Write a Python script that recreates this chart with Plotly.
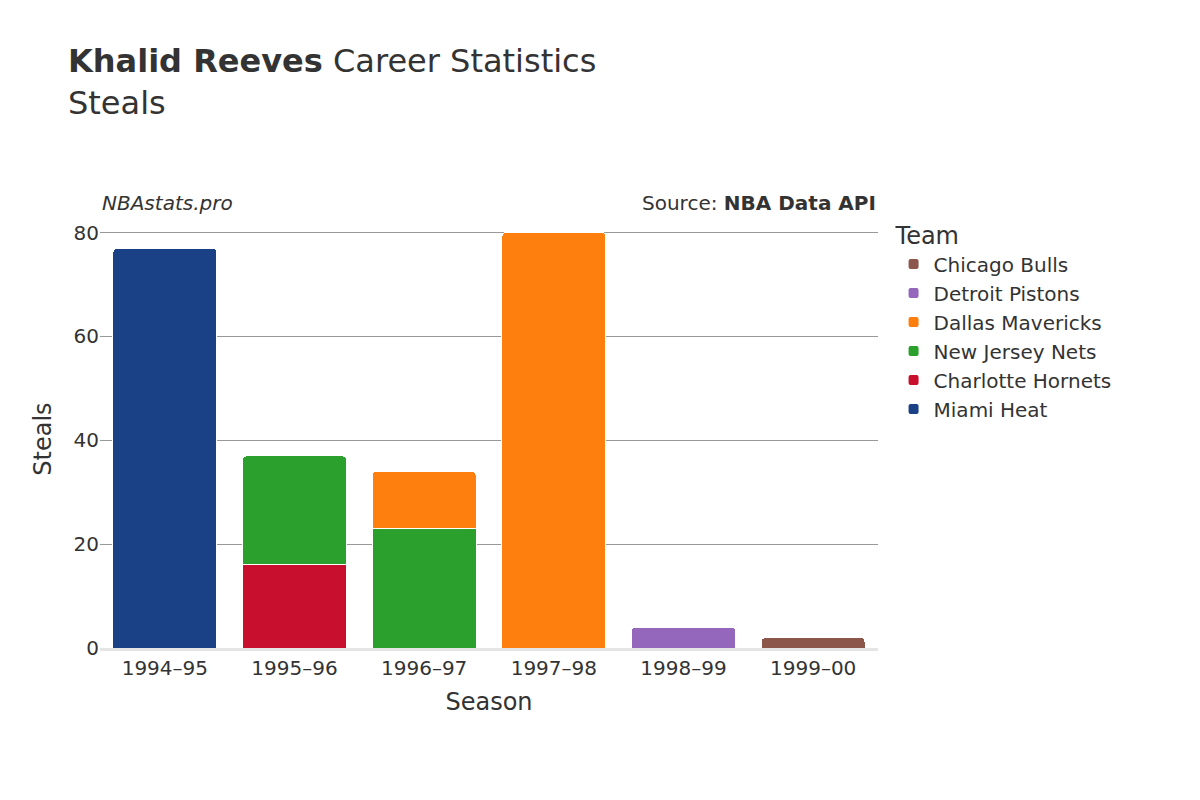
import plotly.graph_objects as go

seasons = ["1994–95", "1995–96", "1996–97", "1997–98", "1998–99", "1999–00"]

teams = ["Miami Heat", "Charlotte Hornets", "New Jersey Nets",
         "Dallas Mavericks", "Detroit Pistons", "Chicago Bulls"]
colors = ["#1a4185", "#c8102e", "#2ca02c", "#ff7f0e", "#9467bd", "#8c564b"]

steals = {
    "Miami Heat": [77, None, None, None, None, None],
    "Charlotte Hornets": [None, 16, None, None, None, None],
    "New Jersey Nets": [None, 21, 23, None, None, None],
    "Dallas Mavericks": [None, None, 11, 80, None, None],
    "Detroit Pistons": [None, None, None, None, 4, None],
    "Chicago Bulls": [None, None, None, None, None, 2],
}

fig = go.Figure()
for team, color in zip(teams, colors):
    fig.add_trace(go.Bar(
        x=seasons, y=steals[team], name=team,
        marker=dict(color=color, line=dict(color="white", width=1)),
    ))

fig.update_layout(
    barmode="stack",
    barcornerradius=4,
    bargap=0.2,
    width=1200, height=800,
    font=dict(family="DejaVu Sans", size=20, color="#333"),
    plot_bgcolor="white", paper_bgcolor="white",
    margin=dict(l=92, r=330, t=222, b=160),
    title=dict(
        text="<b>Khalid Reeves</b> Career Statistics<br>Steals",
        x=0.05, xanchor="left", y=0.92, yanchor="top",
        font=dict(size=32, color="#333"),
    ),
    legend=dict(
        title=dict(text="Team", font=dict(size=24)),
        x=1.02, xanchor="left", y=1.04, yanchor="top",
        font=dict(size=20), itemsizing="constant",
    ),
    xaxis=dict(title=dict(text="Season", font=dict(size=24)), showgrid=False,
               showline=True, linecolor="#e5e5e5", linewidth=3),
    yaxis=dict(title=dict(text="Steals", font=dict(size=24)), range=[0, 80.5],
               tickvals=[0, 20, 40, 60, 80], gridcolor="#999", zeroline=False),
    annotations=[
        dict(text="<i>NBAstats.pro</i>", xref="paper", yref="paper", x=0.0, y=1.03,
             xanchor="left", yanchor="bottom", showarrow=False, font=dict(size=20)),
        dict(text="Source: <b>NBA Data API</b>", xref="paper", yref="paper", x=1.0, y=1.03,
             xanchor="right", yanchor="bottom", showarrow=False, font=dict(size=20)),
    ],
)

fig.write_html("out.html")
